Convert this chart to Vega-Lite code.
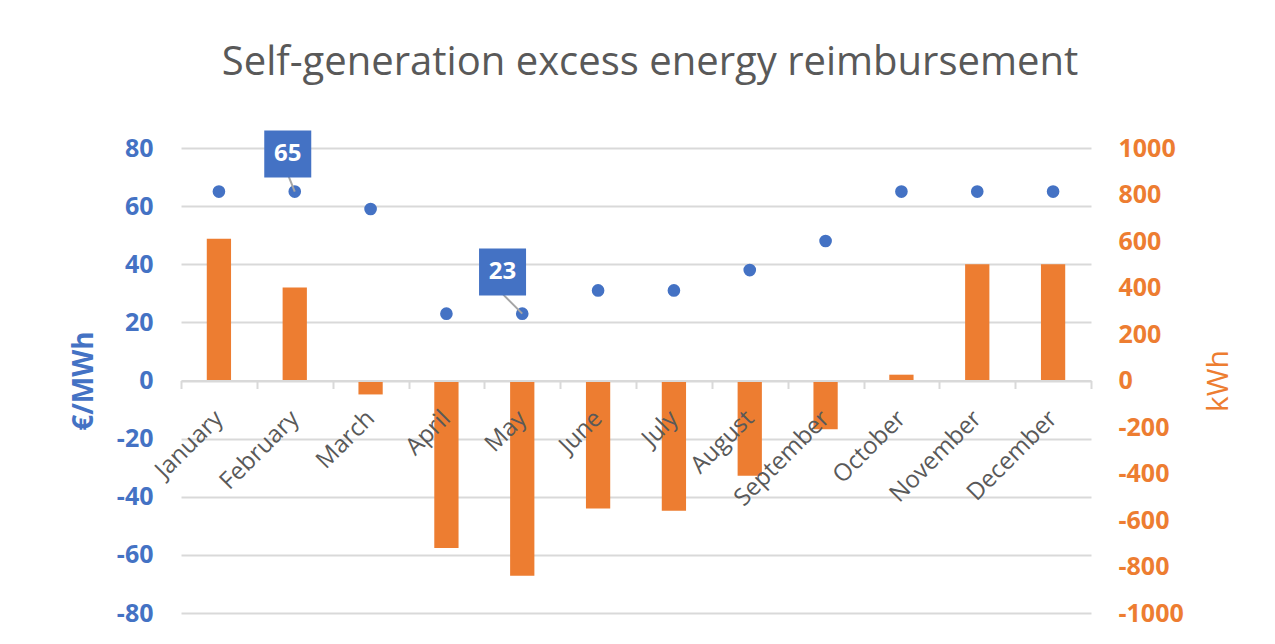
{
  "$schema": "https://vega.github.io/schema/vega-lite/v6.json",
  "width": 910,
  "height": 465,
  "autosize": {"type": "none"},
  "padding": {"left": 181, "top": 148, "right": 184, "bottom": 31},
  "background": "white",
  "title": {
    "text": "Self-generation excess energy reimbursement",
    "font": "Open Sans",
    "fontSize": 40,
    "fontWeight": "normal",
    "color": "#595959",
    "anchor": "middle",
    "dx": 14,
    "offset": 47
  },
  "config": {"view": {"stroke": null}, "font": "Open Sans"},
  "data": {
    "values": [
      {"month": "January", "price": 65, "kwh": 610},
      {"month": "February", "price": 65, "kwh": 400},
      {"month": "March", "price": 59, "kwh": -60},
      {"month": "April", "price": 23, "kwh": -720},
      {"month": "May", "price": 23, "kwh": -840},
      {"month": "June", "price": 31, "kwh": -550},
      {"month": "July", "price": 31, "kwh": -560},
      {"month": "August", "price": 38, "kwh": -410},
      {"month": "September", "price": 48, "kwh": -210},
      {"month": "October", "price": 65, "kwh": 25},
      {"month": "November", "price": 65, "kwh": 500},
      {"month": "December", "price": 65, "kwh": 500}
    ]
  },
  "encoding": {
    "x": {
      "field": "month",
      "type": "nominal",
      "sort": null,
      "title": null,
      "scale": {"paddingInner": 0, "paddingOuter": 0},
      "axis": {
        "orient": "bottom",
        "offset": -232.5,
        "zindex": 1,
        "domainColor": "#D9D9D9",
        "domainWidth": 2,
        "tickColor": "#D9D9D9",
        "tickWidth": 2,
        "tickSize": 8,
        "tickBand": "extent",
        "labelAngle": -45,
        "labelAlign": "right",
        "labelBaseline": "middle",
        "labelFontSize": 24,
        "labelColor": "#595959",
        "labelPadding": 26,
        "labelOverlap": false,
        "labelLimit": 0,
        "labelBound": false,
        "grid": false
      }
    }
  },
  "layer": [
    {
      "mark": {"type": "bar", "color": "#ED7D31", "width": {"band": 0.32}},
      "encoding": {
        "y": {
          "field": "kwh",
          "type": "quantitative",
          "scale": {"domain": [-1000, 1000], "nice": false},
          "axis": {
            "orient": "right",
            "values": [-1000, -800, -600, -400, -200, 0, 200, 400, 600, 800, 1000],
            "labelExpr": "datum.value + ''",
            "grid": false,
            "domain": false,
            "ticks": false,
            "labelColor": "#ED7D31",
            "labelFontSize": 25,
            "labelFontWeight": "bold",
            "labelPadding": 27,
            "title": "kWh",
            "titleColor": "#ED7D31",
            "titleFontSize": 30,
            "titleFontWeight": "normal",
            "titleAngle": 270,
            "titlePadding": 50
          }
        }
      }
    },
    {
      "encoding": {
        "y": {
          "field": "price",
          "type": "quantitative",
          "scale": {"domain": [-80, 80], "nice": false},
          "axis": {
            "orient": "left",
            "values": [-80, -60, -40, -20, 0, 20, 40, 60, 80],
            "labelExpr": "datum.value + ''",
            "grid": true,
            "gridColor": "#D9D9D9",
            "gridWidth": 2,
            "domain": false,
            "ticks": false,
            "labelColor": "#4472C4",
            "labelFontSize": 25,
            "labelFontWeight": "bold",
            "labelPadding": 28,
            "title": "€/MWh",
            "titleColor": "#4472C4",
            "titleFontSize": 28,
            "titleFontWeight": "bold",
            "titlePadding": 18
          }
        }
      },
      "layer": [
        {
          "mark": {"type": "circle", "color": "#4472C4", "size": 160, "opacity": 1}
        },
        {
          "transform": [{"filter": "datum.month === 'February'"}],
          "mark": {"type": "rule", "color": "#A5A5A5", "strokeWidth": 2, "x2Offset": -6, "y2Offset": -15},
          "encoding": {
            "x2": {"field": "month", "bandPosition": 0.5},
            "y2": {"field": "price"}
          }
        },
        {
          "transform": [{"filter": "datum.month === 'May'"}],
          "mark": {"type": "rule", "color": "#A5A5A5", "strokeWidth": 2, "x2Offset": -19, "y2Offset": -19},
          "encoding": {
            "x2": {"field": "month", "bandPosition": 0.5},
            "y2": {"field": "price"}
          }
        },
        {
          "transform": [{"filter": "datum.month === 'February'"}],
          "mark": {"type": "point", "shape": "square", "filled": true, "size": 2209, "color": "#4472C4", "opacity": 1, "xOffset": -7, "yOffset": -37.6}
        },
        {
          "transform": [{"filter": "datum.month === 'May'"}],
          "mark": {"type": "point", "shape": "square", "filled": true, "size": 2209, "color": "#4472C4", "opacity": 1, "xOffset": -19.7, "yOffset": -41.7}
        },
        {
          "transform": [{"filter": "datum.month === 'February'"}],
          "mark": {"type": "text", "color": "white", "fontSize": 24, "fontWeight": "bold", "align": "center", "baseline": "middle", "xOffset": -7, "yOffset": -37.6},
          "encoding": {"text": {"field": "price", "type": "quantitative"}}
        },
        {
          "transform": [{"filter": "datum.month === 'May'"}],
          "mark": {"type": "text", "color": "white", "fontSize": 24, "fontWeight": "bold", "align": "center", "baseline": "middle", "xOffset": -19.7, "yOffset": -41.7},
          "encoding": {"text": {"field": "price", "type": "quantitative"}}
        }
      ]
    }
  ],
  "resolve": {"scale": {"y": "independent"}}
}
